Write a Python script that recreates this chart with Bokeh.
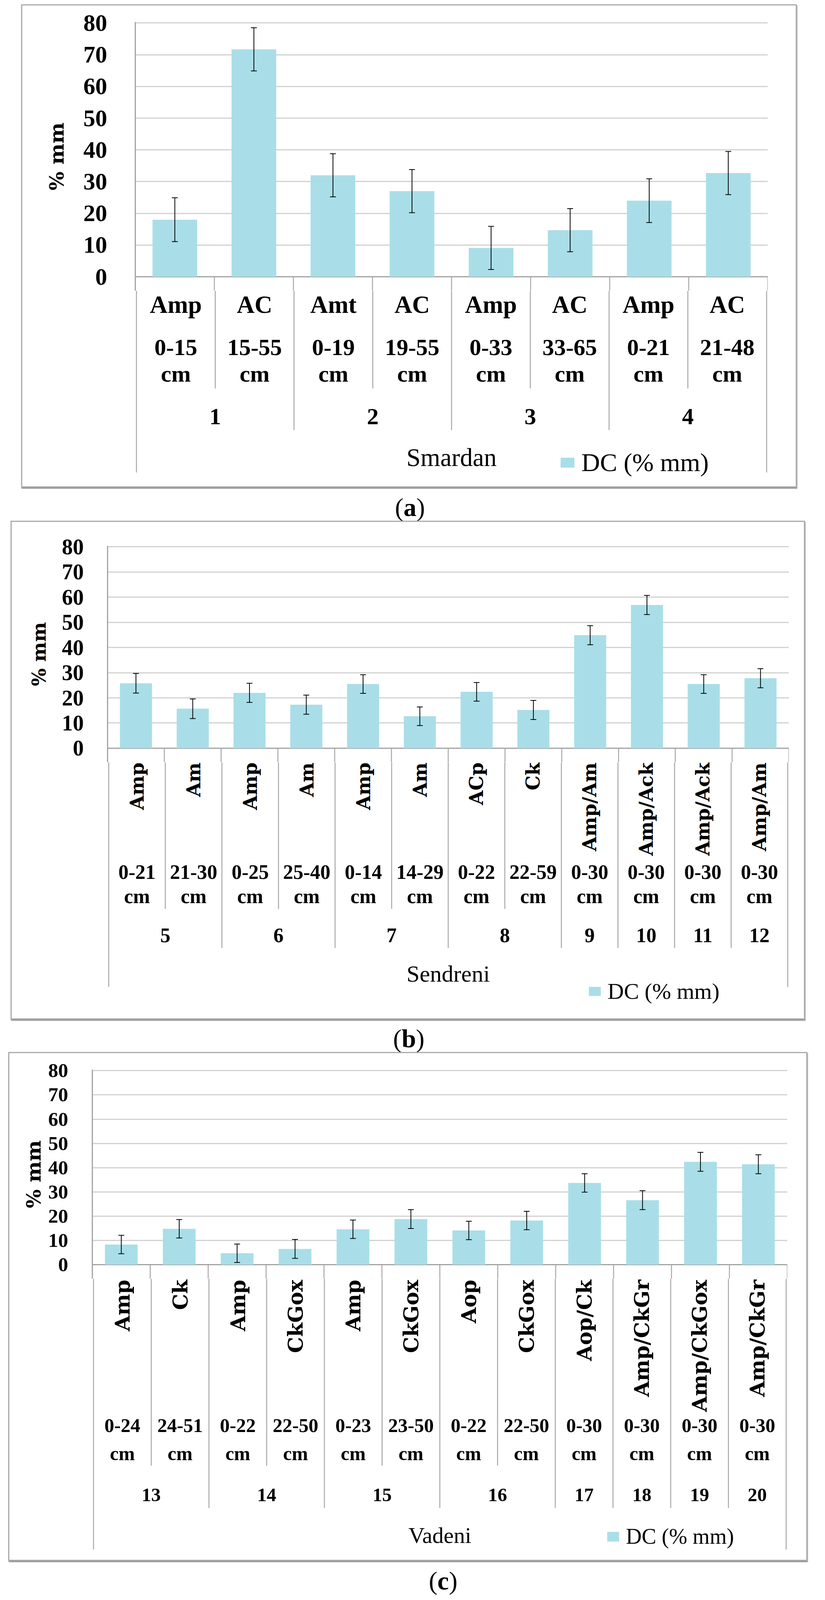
import math
from bokeh.plotting import figure
from bokeh.models import (ColumnDataSource, Range1d, FixedTicker, Whisker, TeeHead,
                          Legend, LegendItem, CDSView, IndexFilter, Div)
from bokeh.layouts import column
from bokeh.core.properties import value
from bokeh.embed import file_html
from bokeh.resources import INLINE

SERIES_NAME = "DC (% mm)"
Y_LABEL = "% mm"
Y_TICKS = [0, 10, 20, 30, 40, 50, 60, 70, 80]

# ---------------- (a) Smardan ----------------
a_site = "Smardan"
a_profiles = ["1", "1", "2", "2", "3", "3", "4", "4"]
a_horizons = ["Amp", "AC", "Amt", "AC", "Amp", "AC", "Amp", "AC"]
a_depths = ["0-15 cm", "15-55 cm", "0-19 cm", "19-55 cm", "0-33 cm", "33-65 cm", "0-21 cm", "21-48 cm"]
a_dc = [18.0, 71.7, 32.0, 27.0, 9.1, 14.7, 24.0, 32.7]
a_err = [6.9, 6.8, 6.8, 6.8, 6.8, 6.8, 6.9, 6.8]

# ---------------- (b) Sendreni ----------------
b_site = "Sendreni"
b_profiles = ["5", "5", "6", "6", "7", "7", "8", "8", "9", "10", "11", "12"]
b_horizons = ["Amp", "Am", "Amp", "Am", "Amp", "Am", "ACp", "Ck", "Amp/Am", "Amp/Ack", "Amp/Ack", "Amp/Am"]
b_depths = ["0-21 cm", "21-30 cm", "0-25 cm", "25-40 cm", "0-14 cm", "14-29 cm", "0-22 cm", "22-59 cm",
            "0-30 cm", "0-30 cm", "0-30 cm", "0-30 cm"]
b_dc = [25.8, 15.7, 22.0, 17.3, 25.5, 12.7, 22.4, 15.2, 44.9, 56.9, 25.5, 27.8]
b_err = [3.9, 3.9, 3.8, 3.8, 3.7, 3.7, 3.7, 3.8, 3.8, 3.8, 3.7, 3.8]

# ---------------- (c) Vadeni ----------------
c_site = "Vadeni"
c_profiles = ["13", "13", "14", "14", "15", "15", "16", "16", "17", "18", "19", "20"]
c_horizons = ["Amp", "Ck", "Amp", "CkGox", "Amp", "CkGox", "Aop", "CkGox", "Aop/Ck", "Amp/CkGr", "Amp/CkGox", "Amp/CkGr"]
c_depths = ["0-24 cm", "24-51 cm", "0-22 cm", "22-50 cm", "0-23 cm", "23-50 cm", "0-22 cm", "22-50 cm",
            "0-30 cm", "0-30 cm", "0-30 cm", "0-30 cm"]
c_dc = [8.3, 14.8, 4.7, 6.5, 14.6, 18.8, 14.1, 18.2, 33.7, 26.6, 42.4, 41.4]
c_err = [3.8, 3.8, 3.8, 3.9, 3.8, 3.9, 3.8, 3.8, 3.8, 3.9, 3.9, 3.9]

# ---------------- styles ----------------
BAR = "#a9dee8"
GRID = "#d2d2d2"
AXIS = "#a3a3a3"
SEP = "#a8a8a8"
SERIF = "Liberation Serif"
WIDE = "DejaVu Serif"
BASELINE_FIX = 0.33      # em shift applied to alphabetic-baseline texts

# The browser viewport is 2113 x 4096: the layout below is measured on the
# 2113 x 5617 reference and mapped vertically onto the viewport height.
KY = 4096.0 / 5617.0     # vertical mapping
FS = 0.85                # font scale
PAGE_MARGIN = 8
EXT = 36                 # px of the upper figure below the zero line (room for the "0" label)


def Y(v):
    return v * KY


def F(v):
    return int(round(v * FS))


# reference-pixel layout of each panel
LAY_A = dict(box=(63, 28, 2048, 1721), frame=(354, 1974, 91, 982), sep=(1374, 1520, 1669),
             rotated=False, hz_y=1108, hz_size=74, d1_y=1257, d2_y=1350, d_size=71,
             g_y=1500, g_size=70, site_y=1646, site_size=76,
             leg=(1436, 1617, 44, 44), leg_size=78, leg_standoff=14,
             tick_size=72, tick_standoff=72, yl_size=60, yl_standoff=36,
             cap=(1058, 1792), cap_size=78)
LAY_B = dict(box=(36, 1840, 2069, 3589), frame=(283, 2028, 1930, 2637), sep=(3201, 3338, 3475),
             rotated=True, hz_y=2687, hz_size=57, d1_y=3096, d2_y=3180, d_size=61,
             g_y=3318, g_size=61, site_y=3456, site_size=71,
             leg=(1509, 3475, 38, 40), leg_size=68, leg_standoff=14,
             tick_size=66, tick_standoff=61, yl_size=56, yl_standoff=28,
             cap=(1055, 3657), cap_size=78)
LAY_C = dict(box=(30, 3706, 2075, 5489), frame=(244, 2024, 3769, 4450), sep=(5156, 5304, 5450),
             rotated=True, hz_y=4503, hz_size=61, d1_y=5038, d2_y=5135, d_size=59,
             g_y=5281, g_size=58, site_y=5427, site_size=68,
             leg=(1556, 5390, 38, 43), leg_size=66, leg_standoff=14,
             tick_size=60, tick_standoff=62, yl_size=60, yl_standoff=5,
             cap=(1143, 5561), cap_size=78)


def boundaries(groups, lay):
    n = len(groups)
    inner, grp, outer = lay["sep"]
    bx, bend = [], []
    for b in range(n + 1):
        if b == 0 or b == n:
            e = outer
        elif groups[b - 1] != groups[b]:
            e = grp
        else:
            e = inner
        bx.append(b)
        bend.append(e)
    return bx, bend


def build_panel(site, groups, horizons, depths, vals, errs, lay):
    n = len(vals)
    L, T, R, B = lay["box"]
    il, ir = L + 2, R - 2
    it, ib = int(round(Y(T))) + 2, int(round(Y(B))) - 2
    fl, fr, y80r, y0r = lay["frame"]
    y80, y0 = Y(y80r), Y(y0r)
    yb = int(round(y0 + EXT))          # page y where the lower figure starts
    W = ir - il

    src = ColumnDataSource(dict(
        x=[i + 0.5 for i in range(n)],
        top=vals,
        lower=[v - e for v, e in zip(vals, errs)],
        upper=[v + e for v, e in zip(vals, errs)],
        horizon=horizons,
        d1=[d.split(" ")[0] for d in depths],
        d2=[d.split(" ")[1] for d in depths],
    ))
    bx, bend = boundaries(groups, lay)

    # ---- upper figure: bars, y axis, grid ----
    mtop = int(round(y80 - 2 - it))
    ftop = it + mtop
    ppu_y = (y0 - y80) / 80.0
    y_start = -(yb - y0) / ppu_y
    y_end = y_start + (yb - ftop) / ppu_y
    top = figure(width=W, height=yb - it, x_range=Range1d(0, n),
                 y_range=Range1d(y_start, y_end),
                 x_axis_location=None, output_backend="svg", toolbar_location=None,
                 min_border_left=fl - il, min_border_right=ir - fr,
                 min_border_top=mtop, min_border_bottom=0)
    top.outline_line_color = None
    top.background_fill_color = "white"
    top.border_fill_color = "white"
    top.xgrid.visible = False
    top.ygrid.ticker = FixedTicker(ticks=Y_TICKS)
    top.ygrid.grid_line_color = GRID
    top.ygrid.grid_line_width = 3
    ax = top.yaxis[0]
    ax.ticker = FixedTicker(ticks=Y_TICKS)
    ax.major_label_text_font = SERIF
    ax.major_label_text_font_style = "bold"
    ax.major_label_text_font_size = f"{F(lay['tick_size'])}px"
    ax.major_label_text_color = "black"
    ax.major_label_standoff = lay["tick_standoff"]
    ax.major_tick_line_color = None
    ax.minor_tick_line_color = None
    ax.major_tick_out = 0
    ax.major_tick_in = 0
    ax.axis_line_color = AXIS
    ax.axis_line_width = 3
    ax.axis_label = Y_LABEL
    ax.axis_label_text_font = WIDE
    ax.axis_label_text_font_style = "bold"
    ax.axis_label_text_font_size = f"{F(lay['yl_size'])}px"
    ax.axis_label_text_color = "black"
    ax.axis_label_standoff = lay["yl_standoff"]

    # category separators (upper part) and the category axis line
    top.segment(x0=bx, y0=[0] * len(bx), x1=bx, y1=[y_start] * len(bx), line_color=SEP, line_width=2.5)
    top.segment(x0=[0], y0=[0], x1=[n], y1=[0], line_color=AXIS, line_width=3)

    top.vbar(x="x", top="top", width=0.565, source=src, fill_color=BAR, line_color=None)
    wh = Whisker(source=src, base="x", upper="upper", lower="lower",
                 line_color="black", line_width=2,
                 upper_head=TeeHead(size=15, line_color="black", line_width=2),
                 lower_head=TeeHead(size=15, line_color="black", line_width=2))
    wh.level = "annotation"
    top.add_layout(wh)

    # ---- lower figure: category block ----
    ppu_x = (fr - fl) / float(n)
    padx = 3.0 / ppu_x
    Hb = ib - yb
    bot = figure(width=W, height=Hb, x_range=Range1d(-padx, n + padx), y_range=Range1d(-Hb, 0),
                 x_axis_location=None, y_axis_location=None,
                 output_backend="svg", toolbar_location=None,
                 min_border_left=fl - 3 - il, min_border_right=ir - fr - 3,
                 min_border_top=0, min_border_bottom=0)
    bot.outline_line_color = None
    bot.grid.visible = False
    bot.border_fill_color = "white"

    def py(ref_y, size=0):
        return -(Y(ref_y) - yb) + BASELINE_FIX * size

    bot.segment(x0=bx, y0=[0] * len(bx), x1=bx, y1=[py(e) for e in bend], line_color=SEP, line_width=2.5)

    hz = F(lay["hz_size"])
    if lay["rotated"]:
        bot.text(x="x", y=py(lay["hz_y"]), text="horizon", source=src, angle=math.pi / 2,
                 text_align="right", text_baseline="middle",
                 text_font=value(WIDE), text_font_style="bold",
                 text_font_size=f"{hz}px", text_color="black")
    else:
        bot.text(x="x", y=py(lay["hz_y"], hz), text="horizon", source=src,
                 text_align="center", text_baseline="alphabetic",
                 text_font=value(SERIF), text_font_style="bold",
                 text_font_size=f"{hz}px", text_color="black")
    ds = F(lay["d_size"])
    for col, yy in (("d1", lay["d1_y"]), ("d2", lay["d2_y"])):
        bot.text(x="x", y=py(yy, ds), text=col, source=src,
                 text_align="center", text_baseline="alphabetic",
                 text_font=value(SERIF), text_font_style="bold",
                 text_font_size=f"{ds}px", text_color="black")

    spans = []
    for i, g in enumerate(groups):
        if spans and spans[-1][0] == g:
            spans[-1][2] = i + 1
        else:
            spans.append([g, i, i + 1])
    gsrc = ColumnDataSource(dict(x=[(s + e) / 2.0 for _, s, e in spans], text=[g for g, _, _ in spans]))
    gs = F(lay["g_size"])
    bot.text(x="x", y=py(lay["g_y"], gs), text="text", source=gsrc,
             text_align="center", text_baseline="alphabetic",
             text_font=value(SERIF), text_font_style="bold",
             text_font_size=f"{gs}px", text_color="black")
    ss = F(lay["site_size"])
    bot.text(x=[n / 2.0], y=[py(lay["site_y"], ss)], text=[site],
             text_align="center", text_baseline="alphabetic",
             text_font=value(SERIF), text_font_size=f"{ss}px", text_color="black")

    # legend proxy: one bar of the series, outside this figure's view (clipped away)
    r_leg = bot.vbar(x="x", top="top", width=0.565, source=src, fill_color=BAR, line_color=None,
                     view=CDSView(filter=IndexFilter(indices=[0])))
    gx, gy, gw, gh = lay["leg"]
    ls = F(lay["leg_size"])
    gh2 = int(round(gh * KY))
    box_h = max(gh2, round(0.77 * ls))
    leg = Legend(items=[LegendItem(label=SERIES_NAME, renderers=[r_leg])],
                 location=(gx - (fl - 3), int(round(ib - (Y(gy) + box_h)))),
                 glyph_width=gw, glyph_height=gh2, label_standoff=lay["leg_standoff"],
                 label_text_font=SERIF, label_text_font_size=f"{ls}px",
                 label_text_color="black", label_text_baseline="alphabetic",
                 padding=0, margin=0, spacing=0,
                 border_line_color=None, background_fill_alpha=0)
    bot.add_layout(leg)

    return top, bot, it - 2, ib + 2


def boxed(top, bot, lay, margin_top):
    L, T, R, B = lay["box"]
    return column(top, bot, spacing=0,
                  margin=(margin_top, 0, 0, L - 1 - PAGE_MARGIN),
                  styles={"border": "3px solid #ababab", "box-shadow": "1px 3px 2px #8f8f8f",
                          "background-color": "white"})


CAP_H = int(round(80 * KY))


def caption(letter, lay, margin_top):
    cx, cy = lay["cap"]
    return Div(text=f"(<b>{letter}</b>)", width=400, height=CAP_H,
               margin=(margin_top, 0, 0, cx - 200 - PAGE_MARGIN),
               styles={"font-family": "'Liberation Serif', serif", "font-size": f"{F(lay['cap_size'])}px",
                       "line-height": f"{CAP_H}px", "text-align": "center", "color": "black"})


items = []
prev_bottom = PAGE_MARGIN
for args, lay, letter in (((a_site, a_profiles, a_horizons, a_depths, a_dc, a_err), LAY_A, "a"),
                          ((b_site, b_profiles, b_horizons, b_depths, b_dc, b_err), LAY_B, "b"),
                          ((c_site, c_profiles, c_horizons, c_depths, c_dc, c_err), LAY_C, "c")):
    t, b, box_top, box_bottom = build_panel(*args, lay)
    items.append(boxed(t, b, lay, (box_top - 1) - prev_bottom))
    cap_top = int(round(Y(lay["cap"][1]) - CAP_H / 2))
    items.append(caption(letter, lay, cap_top - (box_bottom + 1)))
    prev_bottom = cap_top + CAP_H

page = column(*items, spacing=0)
open("out.html", "w").write(file_html(page, INLINE))
